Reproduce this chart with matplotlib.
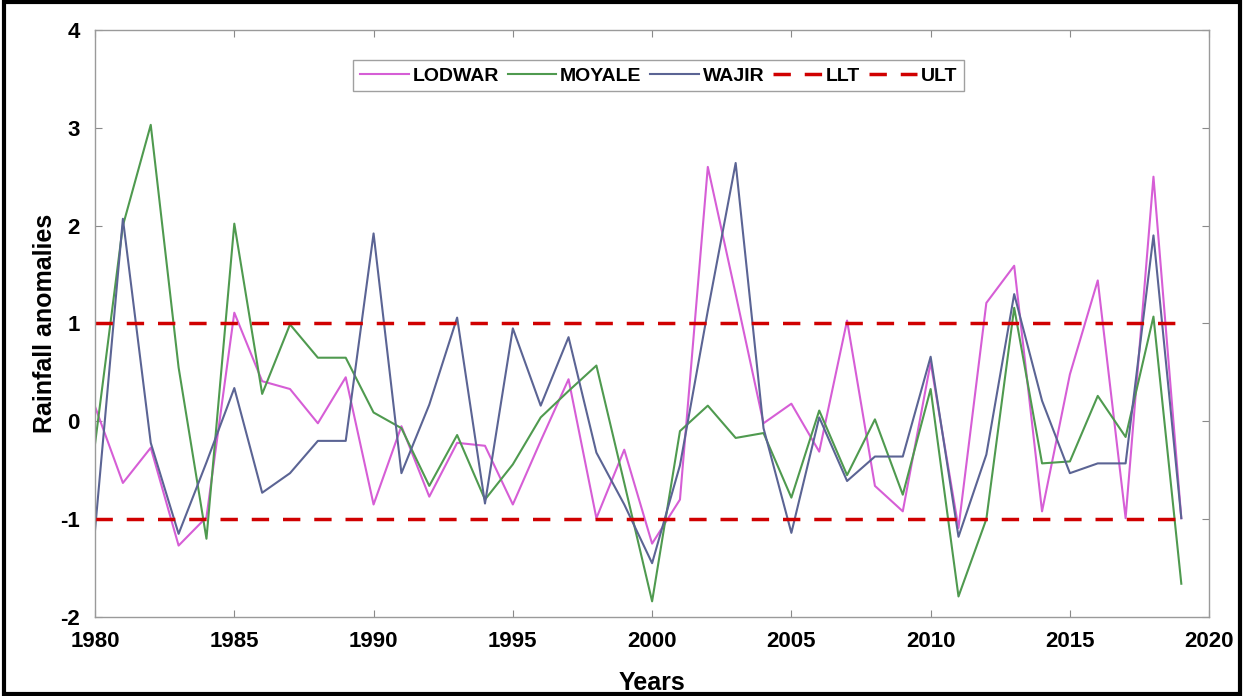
import matplotlib
matplotlib.use('Agg')
import matplotlib.pyplot as plt
from matplotlib.patches import Rectangle
import numpy as np

# rainfall anomaly series
years = list(range(1980, 2020))

lodwar = [0.15, -0.63, -0.27, -1.27, -0.98, 1.11, 0.41, 0.33, -0.02, 0.45,
          -0.85, -0.05, -0.77, -0.22, -0.25, -0.85, -0.20, 0.43, -0.99, -0.29,
          -1.25, -0.80, 2.60, 1.30, -0.02, 0.18, -0.31, 1.03, -0.66, -0.92,
          0.60, -1.09, 1.21, 1.59, -0.92, 0.48, 1.44, -0.99, 2.50, -0.99]

moyale = [-0.23, 2.00, 3.03, 0.55, -1.20, 2.02, 0.28, 0.99, 0.65, 0.65,
          0.09, -0.07, -0.66, -0.14, -0.80, -0.44, 0.04, 0.31, 0.57, -0.63,
          -1.84, -0.10, 0.16, -0.17, -0.12, -0.78, 0.11, -0.55, 0.02, -0.75,
          0.33, -1.79, -1.00, 1.16, -0.43, -0.41, 0.26, -0.16, 1.07, -1.66]

wajir = [-1.11, 2.07, -0.22, -1.15, -0.42, 0.34, -0.73, -0.53, -0.20, -0.20,
         1.92, -0.53, 0.17, 1.06, -0.84, 0.95, 0.16, 0.86, -0.32, -0.85,
         -1.45, -0.45, 1.13, 2.64, -0.07, -1.14, 0.04, -0.61, -0.36, -0.36,
         0.66, -1.18, -0.34, 1.30, 0.21, -0.53, -0.43, -0.43, 1.90, -0.99]

llt = -1.0
ult = 1.0

plt.rcParams['font.family'] = ['Liberation Sans', 'DejaVu Sans']
plt.rcParams['font.weight'] = 'bold'
plt.rcParams['axes.unicode_minus'] = False

fig = plt.figure(figsize=(12.44, 6.96), dpi=100)
ax = fig.add_axes([0.0764, 0.1135, 0.8956, 0.8435])

ax.plot(years, lodwar, color='#d65ed6', lw=1.5, label='LODWAR')
ax.plot(years, moyale, color='#4f9a4f', lw=1.5, label='MOYALE')
ax.plot(years, wajir, color='#5b6494', lw=1.5, label='WAJIR')
ax.plot(years, [llt] * len(years), color='#d00000', lw=2.5, ls=(0, (5, 4)), label='LLT')
ax.plot(years, [ult] * len(years), color='#d00000', lw=2.5, ls=(0, (5, 4)), label='ULT')

ax.set_xlim(1980, 2020)
ax.set_ylim(-2, 4)
ax.set_xticks(range(1980, 2021, 5))
ax.set_yticks(range(-2, 5))

for s in ax.spines.values():
    s.set_color('#9a9a9a')
    s.set_linewidth(1.0)
ax.tick_params(direction='in', length=5, width=0.8, color='#8a8a8a',
               top=True, right=True, labelsize=16)
ax.tick_params(axis='x', pad=10)
ax.tick_params(axis='y', pad=11)
for lab in ax.get_xticklabels() + ax.get_yticklabels():
    lab.set_fontweight('bold')

ax.set_xlabel('Years', fontsize=18, fontweight='bold', labelpad=14)
ax.set_ylabel('Rainfall anomalies', fontsize=18, fontweight='bold', labelpad=2)

leg = ax.legend(loc='upper center', bbox_to_anchor=(0.506, 0.965), ncol=5,
                fontsize=14, frameon=True, fancybox=False, shadow=False,
                handlelength=2.5, handletextpad=0.2, columnspacing=0.45,
                borderpad=0.35)
leg.get_frame().set_edgecolor('#888888')
leg.get_frame().set_linewidth(1.0)
for t in leg.get_texts():
    t.set_fontweight('bold')

# black frame around the whole picture
fig.patches.append(Rectangle((0.003, 0.003), 0.994, 0.994, transform=fig.transFigure,
                             fill=False, edgecolor='black', linewidth=3))

fig.savefig('out.png', dpi=100)
